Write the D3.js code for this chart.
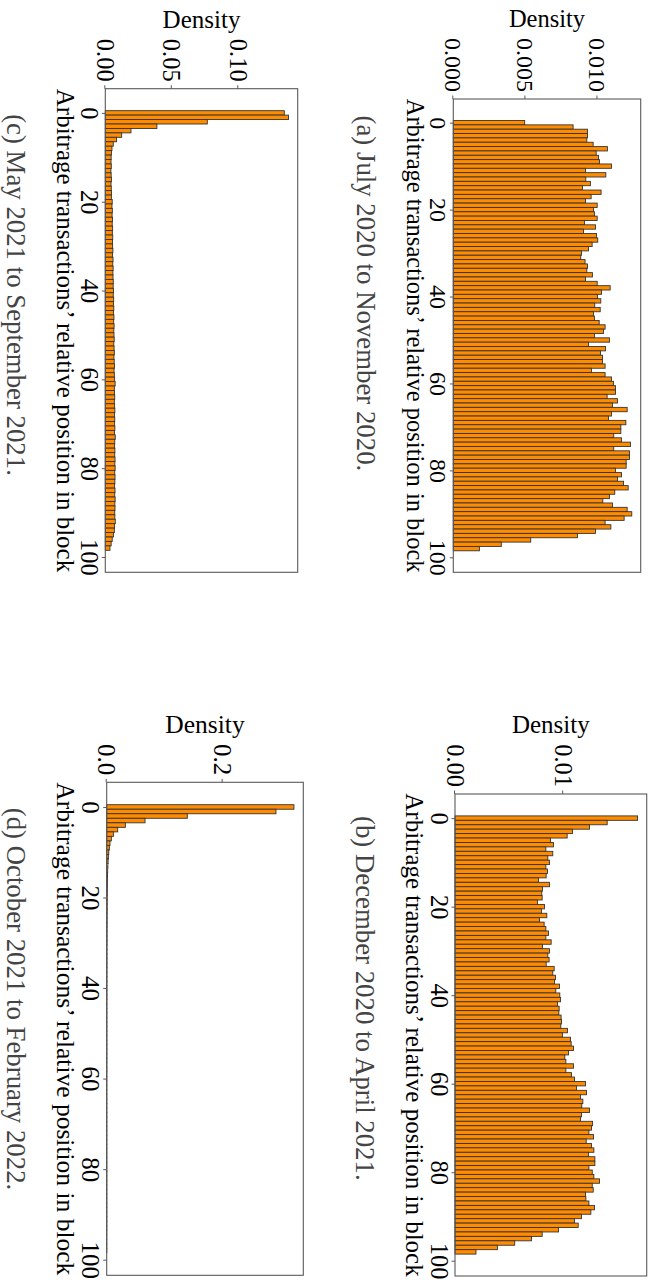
<!DOCTYPE html>
<html>
<head>
<meta charset="utf-8">
<script src="https://cdn.jsdelivr.net/npm/d3@7"></script>
<style>
  html, body { margin: 0; padding: 0; background: #fff; }
  svg { display: block; }
</style>
</head>
<body>
<svg id="fig" width="648" height="1288"></svg>
<script>
// Relative position of arbitrage transactions in a block (discrete bins 0..98)
const positions = d3.range(0, 99);

// Density per bin, July 2020 – November 2020
const densA = [
  0.00495, 0.00831, 0.00931, 0.00931, 0.00926, 0.00970, 0.01069, 0.00991, 0.01007, 0.01014,
  0.01097, 0.00917, 0.01058, 0.00919, 0.00951, 0.00896, 0.01025, 0.00956, 0.00917, 0.00998,
  0.00972, 0.00979, 0.00998, 0.00910, 0.00986, 0.00903, 0.00993, 0.01002, 0.00963, 0.00938,
  0.00889, 0.00884, 0.00914, 0.00931, 0.00926, 0.00965, 0.00917, 0.00998, 0.01088, 0.01028,
  0.01000, 0.01023, 0.00981, 0.01019, 0.00972, 0.00979, 0.01012, 0.01053, 0.01042, 0.00979,
  0.01083, 0.00938, 0.01056, 0.01021, 0.01035, 0.01035, 0.01053, 0.00958, 0.01053, 0.01097,
  0.01111, 0.01125, 0.01125, 0.01067, 0.01139, 0.01104, 0.01206, 0.01097, 0.01076, 0.01197,
  0.01162, 0.01162, 0.01113, 0.01167, 0.01229, 0.01113, 0.01222, 0.01222, 0.01199, 0.01199,
  0.01125, 0.01167, 0.01139, 0.01181, 0.01213, 0.01120, 0.01083, 0.01037, 0.01104, 0.01206,
  0.01238, 0.01185, 0.01053, 0.01093, 0.00986, 0.00861, 0.00537, 0.00333, 0.00181
];

// Density per bin, December 2020 – April 2021
const densB = [
  0.01688, 0.01407, 0.01244, 0.01086, 0.01037, 0.00883, 0.00910, 0.00840, 0.00904, 0.00858,
  0.00873, 0.00840, 0.00855, 0.00843, 0.00772, 0.00873, 0.00809, 0.00802, 0.00806, 0.00762,
  0.00827, 0.00799, 0.00849, 0.00781, 0.00824, 0.00840, 0.00864, 0.00840, 0.00889, 0.00809,
  0.00873, 0.00858, 0.00870, 0.00843, 0.00917, 0.00904, 0.00929, 0.00920, 0.00966, 0.00932,
  0.00969, 0.00975, 0.00948, 0.00963, 0.00960, 0.00981, 0.00985, 0.00978, 0.01040, 0.00994,
  0.01068, 0.01074, 0.01096, 0.01049, 0.01015, 0.01025, 0.01096, 0.01025, 0.01077, 0.01105,
  0.01207, 0.01123, 0.01216, 0.01160, 0.01182, 0.01172, 0.01244, 0.01170, 0.01160, 0.01272,
  0.01262, 0.01238, 0.01281, 0.01213, 0.01262, 0.01284, 0.01235, 0.01293, 0.01293, 0.01238,
  0.01269, 0.01284, 0.01336, 0.01269, 0.01278, 0.01207, 0.01210, 0.01238, 0.01290, 0.01256,
  0.01170, 0.01105, 0.01139, 0.00957, 0.00806, 0.00707, 0.00552, 0.00392, 0.00194
];

// Density per bin, May 2021 – September 2021
const densC = [
  0.1346, 0.1378, 0.0767, 0.0388, 0.0193, 0.0123, 0.0085, 0.0060, 0.0050, 0.0046,
  0.0044, 0.0043, 0.0045, 0.0042, 0.0044, 0.0046, 0.0043, 0.0045, 0.0047, 0.0046,
  0.0052, 0.0050, 0.0053, 0.0051, 0.0054, 0.0052, 0.0055, 0.0053, 0.0056, 0.0054,
  0.0055, 0.0057, 0.0054, 0.0058, 0.0056, 0.0059, 0.0057, 0.0058, 0.0060, 0.0059,
  0.0062, 0.0060, 0.0063, 0.0061, 0.0064, 0.0062, 0.0065, 0.0063, 0.0066, 0.0064,
  0.0065, 0.0067, 0.0064, 0.0066, 0.0068, 0.0065, 0.0067, 0.0069, 0.0066, 0.0068,
  0.0070, 0.0074, 0.0068, 0.0069, 0.0071, 0.0068, 0.0070, 0.0072, 0.0069, 0.0071,
  0.0070, 0.0072, 0.0069, 0.0075, 0.0071, 0.0070, 0.0072, 0.0071, 0.0073, 0.0072,
  0.0074, 0.0071, 0.0073, 0.0072, 0.0070, 0.0073, 0.0071, 0.0074, 0.0072, 0.0073,
  0.0071, 0.0072, 0.0075, 0.0070, 0.0068, 0.0061, 0.0052, 0.0044, 0.0035
];

// Density per bin, October 2021 – February 2022
const densD = [
  0.3230, 0.2920, 0.1391, 0.0661, 0.0322, 0.0190, 0.0115, 0.0080, 0.0057, 0.0046,
  0.0036, 0.0029, 0.0024, 0.0020, 0.0017, 0.0015, 0.0013, 0.0012, 0.0011, 0.0010,
  0.0009, 0.0009, 0.0008, 0.0008, 0.0007, 0.0007, 0.0007, 0.0006, 0.0006, 0.0006,
  0.0006, 0.0005, 0.0005, 0.0005, 0.0005, 0.0005, 0.0004, 0.0004, 0.0004, 0.0004,
  0.0004, 0.0004, 0.0004, 0.0003, 0.0003, 0.0003, 0.0003, 0.0003, 0.0003, 0.0003,
  0.0003, 0.0003, 0.0003, 0.0003, 0.0003, 0.0003, 0.0003, 0.0002, 0.0003, 0.0002,
  0.0002, 0.0002, 0.0002, 0.0002, 0.0002, 0.0002, 0.0002, 0.0002, 0.0002, 0.0002,
  0.0002, 0.0002, 0.0002, 0.0002, 0.0002, 0.0002, 0.0002, 0.0002, 0.0002, 0.0002,
  0.0002, 0.0002, 0.0002, 0.0002, 0.0002, 0.0002, 0.0002, 0.0002, 0.0002, 0.0002,
  0.0002, 0.0002, 0.0002, 0.0002, 0.0001, 0.0001, 0.0001, 0.0001, 0.0001
];

// Tick labels
const xTicks = [0, 20, 40, 60, 80, 100];
const yTicksA = [0, 0.005, 0.010];
const yTicksB = [0, 0.01];
const yTicksC = [0, 0.05, 0.10];
const yTicksD = [0, 0.2];

// Texts
const xLabel = "Arbitrage transactions\u2019 relative position in block";
const yLabel = "Density";
const captions = [
  "(a) July 2020 to November 2020.",
  "(b) December 2020 to April 2021.",
  "(c) May 2021 to September 2021.",
  "(d) October 2021 to February 2022."
];

// Panel geometry in the unrotated figure (1288 x 648); the whole figure is
// turned a quarter clockwise onto the 648 x 1288 page.
const panels = [
  { values: densA, ticks: yTicksA, fmt: ".3f", caption: captions[0],
    x0: 99,    x1: 572.3,  y0: 7.3,   y1: 194.7, titleDy: 46,   capX: 293.4, capY: 291,   s: 0.98 },
  { values: densB, ticks: yTicksB, fmt: ".2f", caption: captions[1],
    x0: 794,   x1: 1276,   y0: 1.3,   y1: 193,   titleDy: 49,   capX: 998.3, capY: 292,   s: 1.0 },
  { values: densC, ticks: yTicksC, fmt: ".2f", caption: captions[2],
    x0: 88.7,  x1: 572.3,  y0: 350.3, y1: 542.7, titleDy: 48.5, capX: 295,   capY: 641,   s: 1.0 },
  { values: densD, ticks: yTicksD, fmt: ".1f", caption: captions[3],
    x0: 782.3, x1: 1275.3, y0: 344.7, y1: 541.3, titleDy: 50,   capX: 999,   capY: 641.5, s: 1.02 }
];

const SERIF = "'Liberation Serif', 'Times New Roman', Times, serif";
const BAR_FILL = "#ff8c00";
const BAR_EDGE = "#333333";
const SPINE = "#5a5a5a";

const svg = d3.select("#fig");
const root = svg.append("g").attr("transform", "translate(648,0) rotate(90)");

panels.forEach(p => {
  const g = root.append("g");

  const x = d3.scaleLinear().domain([-5.45, 103.45]).range([p.x0, p.x1]);
  const y = d3.scaleLinear().domain([0, 1.05 * d3.max(p.values)]).range([p.y1, p.y0]);

  // histogram bars, one per discrete position
  g.append("g").selectAll("rect")
    .data(p.values)
    .join("rect")
      .attr("x", (d, i) => x(positions[i] - 0.5))
      .attr("width", (d, i) => x(positions[i] + 0.5) - x(positions[i] - 0.5))
      .attr("y", d => y(d))
      .attr("height", d => y(0) - y(d))
      .attr("fill", BAR_FILL)
      .attr("stroke", BAR_EDGE)
      .attr("stroke-width", 0.9);

  // frame
  g.append("rect")
    .attr("x", p.x0).attr("y", p.y0)
    .attr("width", p.x1 - p.x0).attr("height", p.y1 - p.y0)
    .attr("fill", "none").attr("stroke", SPINE).attr("stroke-width", 1.1);

  // bottom axis
  const ax = g.append("g")
    .attr("transform", `translate(0,${p.y1})`)
    .call(d3.axisBottom(x).tickValues(xTicks).tickSize(3.5).tickPadding(3).tickFormat(d3.format("d")));
  ax.select(".domain").remove();
  ax.selectAll(".tick line").attr("stroke", SPINE);
  ax.attr("font-family", SERIF).attr("font-size", 24.5 * p.s);
  ax.selectAll(".tick text").attr("fill", "#000");

  // left axis
  const ay = g.append("g")
    .attr("transform", `translate(${p.x0},0)`)
    .call(d3.axisLeft(y).tickValues(p.ticks).tickSize(3.5).tickPadding(3.5).tickFormat(d3.format(p.fmt)));
  ay.select(".domain").remove();
  ay.selectAll(".tick line").attr("stroke", SPINE);
  ay.attr("font-family", SERIF).attr("font-size", 24.5 * p.s);
  ay.selectAll(".tick text").attr("fill", "#000");

  // y label sits just outside the tick labels
  const bb = ay.node().getBBox();
  const yl = p.x0 + bb.x - 11;
  g.append("text")
    .attr("transform", `translate(${yl},${(p.y0 + p.y1) / 2}) rotate(-90)`)
    .attr("text-anchor", "middle")
    .attr("font-family", SERIF)
    .attr("font-size", 25 * p.s)
    .attr("fill", "#000")
    .text(yLabel);

  // x label
  g.append("text")
    .attr("x", (p.x0 + p.x1) / 2)
    .attr("y", p.y1 + p.titleDy)
    .attr("text-anchor", "middle")
    .attr("font-family", SERIF)
    .attr("font-size", 25 * p.s)
    .attr("fill", "#000")
    .text(xLabel);

  // sub-caption
  root.append("text")
    .attr("x", p.capX)
    .attr("y", p.capY)
    .attr("text-anchor", "middle")
    .attr("font-family", SERIF)
    .attr("font-size", 26.8)
    .attr("fill", "#444")
    .text(p.caption);
});
</script>
</body>
</html>
